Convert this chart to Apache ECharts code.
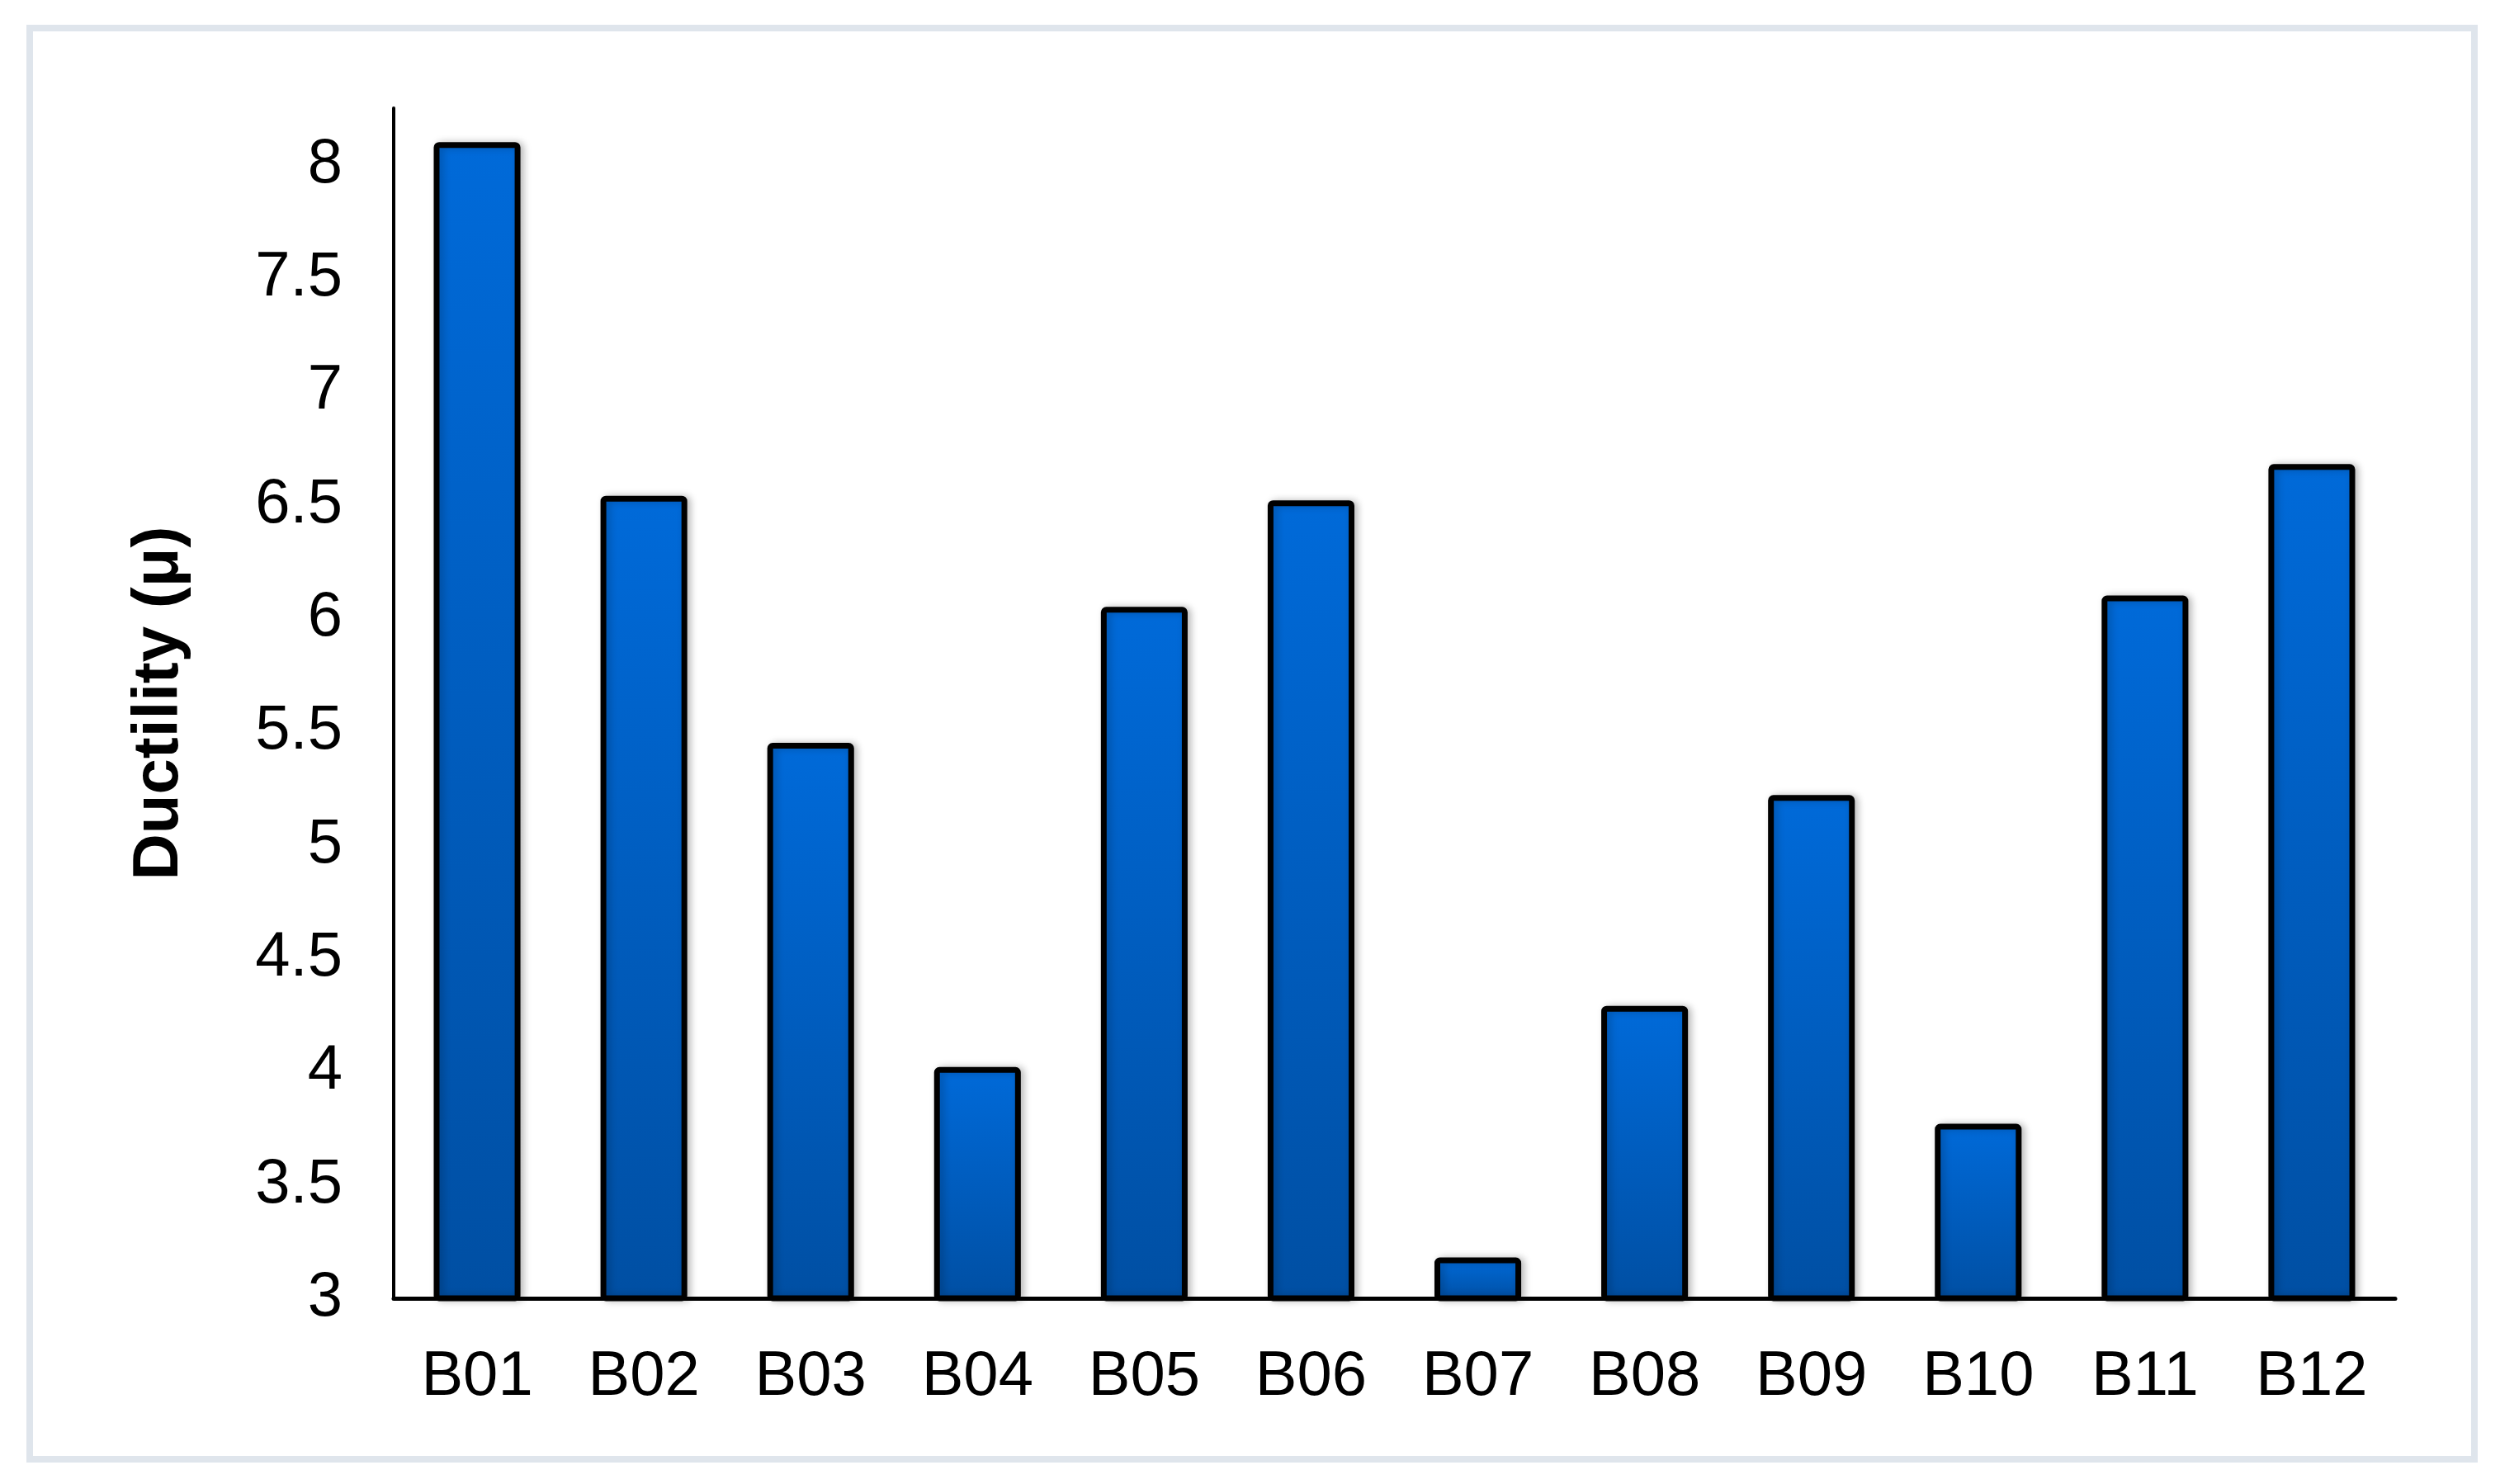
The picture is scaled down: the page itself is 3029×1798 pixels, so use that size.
<!DOCTYPE html>
<html>
<head>
<meta charset="utf-8">
<title>Ductility</title>
<script src="https://cdn.jsdelivr.net/npm/echarts@6/dist/echarts.min.js"></script>
<style>
  html, body { margin: 0; padding: 0; background: #fff; }
  #container { width: 3029px; height: 1798px; }
</style>
</head>
<body>
<div id="container"></div>
<script>
// data
var categories = ['B01', 'B02', 'B03', 'B04', 'B05', 'B06', 'B07', 'B08', 'B09', 'B10', 'B11', 'B12'];
var ductility = [8.10, 6.54, 5.45, 4.02, 6.05, 6.52, 3.18, 4.29, 5.22, 3.77, 6.10, 6.68];
var yMin = 3;
var yMax = 8.25;
var yStep = 0.5;

var myChart = echarts.init(document.getElementById('container'));

var option = {
    backgroundColor: '#ffffff',
    animation: false,
    // light frame round the figure
    graphic: [
        {
            type: 'rect',
            shape: { x: 36, y: 34, width: 2962, height: 1734 },
            style: { fill: 'none', stroke: '#dfe5ec', lineWidth: 8 },
            silent: true
        }
    ],
    grid: {
        left: 477,
        right: 127,
        top: 131,
        bottom: 225
    },
    xAxis: {
        type: 'category',
        data: categories,
        axisLine: { show: true, lineStyle: { color: '#000', width: 5 } },
        axisTick: { show: false },
        axisLabel: {
            color: '#000',
            fontFamily: 'Liberation Sans',
            fontSize: 76,
            margin: 58
        }
    },
    yAxis: {
        type: 'value',
        min: yMin,
        max: yMax,
        interval: yStep,
        name: 'Ductility (μ)',
        nameLocation: 'middle',
        nameGap: 245,
        nameTextStyle: {
            color: '#000',
            fontFamily: 'Liberation Sans',
            fontWeight: 'bold',
            fontSize: 78
        },
        axisLine: { show: true, lineStyle: { color: '#000', width: 4 } },
        axisTick: { show: false },
        splitLine: { show: false },
        axisLabel: {
            color: '#000',
            fontFamily: 'Liberation Sans',
            fontSize: 76,
            margin: 62,
            showMaxLabel: false
        }
    },
    series: [
        {
            type: 'bar',
            data: ductility,
            barCategoryGap: '48%',
            itemStyle: {
                color: new echarts.graphic.LinearGradient(0, 0, 0, 1, [
                    { offset: 0, color: '#006ad9' },
                    { offset: 1, color: '#004fa3' }
                ]),
                borderColor: '#000',
                borderWidth: 7,
                borderRadius: 3,
                shadowColor: 'rgba(0,0,0,0.22)',
                shadowBlur: 10,
                shadowOffsetX: 4
            }
        }
    ]
};

myChart.setOption(option);
</script>
</body>
</html>
